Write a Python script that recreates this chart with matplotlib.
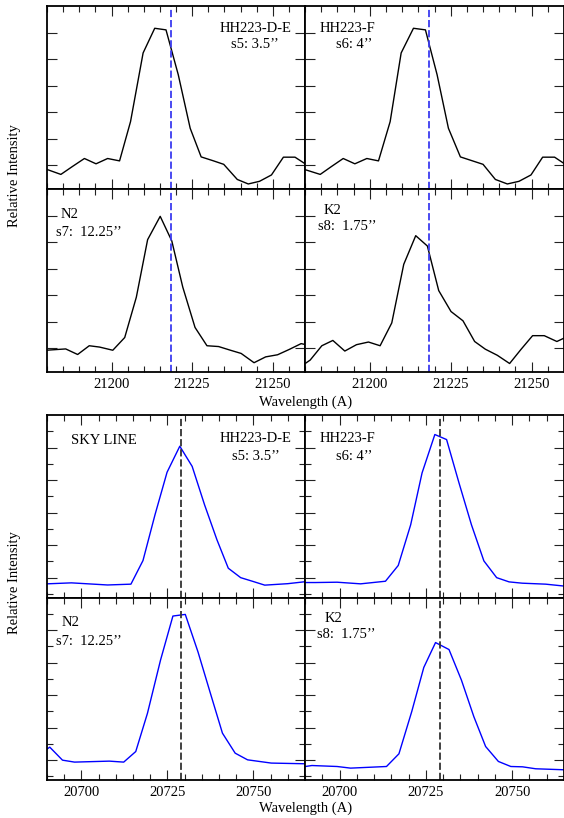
import matplotlib
matplotlib.use('Agg')
import matplotlib.pyplot as plt

plt.rcParams['font.family'] = ['Liberation Serif', 'DejaVu Serif']

# H2 1-0 S(1) panels (top block)
h2_line = 21218.3
h2_wave_s5 = [21179.7, 21184.3, 21187.9, 21191.6, 21195.2, 21198.8, 21202.5, 21205.9,
              21209.8, 21213.4, 21216.9, 21220.7, 21224.4, 21227.8, 21231.4, 21234.8,
              21239.0, 21242.4, 21245.9, 21249.6, 21253.3, 21256.9, 21260.3]
h2_int_s5 = [0.85, 0.65, 0.95, 1.25, 1.05, 1.25, 1.16, 2.64, 5.23, 6.16, 6.10, 4.41,
             2.39, 1.31, 1.17, 1.03, 0.46, 0.29, 0.39, 0.63, 1.30, 1.30, 1.03]
h2_wave_s6 = [21179.5, 21184.7, 21188.2, 21191.8, 21195.4, 21199.1, 21202.7, 21206.3,
              21209.7, 21213.5, 21217.2, 21220.8, 21224.3, 21228.0, 21231.5, 21235.0,
              21238.8, 21242.5, 21246.1, 21249.8, 21253.4, 21257.1, 21260.4]
h2_int_s6 = [0.85, 0.65, 0.95, 1.25, 1.05, 1.25, 1.16, 2.64, 5.23, 6.16, 6.10, 4.41,
             2.39, 1.31, 1.17, 1.03, 0.46, 0.29, 0.39, 0.63, 1.30, 1.30, 1.03]
h2_wave_s7 = [21179.7, 21185.8, 21189.5, 21193.1, 21196.3, 21200.4, 21204.1, 21207.7,
              21211.2, 21215.1, 21218.7, 21222.1, 21225.9, 21229.6, 21233.2, 21236.9,
              21240.2, 21244.2, 21247.8, 21251.5, 21255.1, 21258.8, 21260.3]
h2_int_s7 = [0.92, 0.97, 0.76, 1.09, 1.04, 0.92, 1.40, 2.92, 5.09, 5.97, 5.04, 3.30,
             1.78, 1.09, 1.06, 0.92, 0.80, 0.45, 0.67, 0.75, 0.95, 1.17, 1.13]
h2_wave_s8 = [21179.7, 21181.6, 21185.2, 21188.6, 21192.3, 21195.9, 21199.6, 21203.2,
              21206.8, 21210.5, 21214.2, 21217.8, 21221.3, 21225.1, 21228.8, 21232.4,
              21235.7, 21239.4, 21243.2, 21246.7, 21250.3, 21253.9, 21257.8, 21260.4]
h2_int_s8 = [0.39, 0.55, 1.09, 1.29, 0.89, 1.13, 1.23, 1.09, 1.95, 4.16, 5.24, 4.85,
             3.17, 2.38, 2.03, 1.25, 0.96, 0.73, 0.42, 0.95, 1.47, 1.47, 1.25, 1.40]

# sky line panels (bottom block)
sky_line = 20729.0
sky_wave_s5 = [20690.0, 20697.1, 20707.6, 20714.4, 20717.9, 20721.4, 20724.9, 20728.6,
               20732.2, 20735.8, 20739.4, 20742.7, 20746.3, 20750.0, 20753.3, 20760.0, 20764.6]
sky_int_s5 = [0.62, 0.68, 0.55, 0.60, 2.05, 4.87, 7.48, 9.08, 7.84, 5.48, 3.33, 1.58,
              1.00, 0.76, 0.54, 0.63, 0.74]
sky_wave_s6 = [20689.6, 20693.0, 20699.3, 20706.1, 20713.3, 20717.0, 20720.6, 20723.9,
               20727.6, 20731.0, 20734.6, 20738.2, 20741.8, 20745.5, 20749.1, 20752.9,
               20759.7, 20764.7]
sky_int_s6 = [0.70, 0.70, 0.72, 0.62, 0.78, 1.75, 4.25, 7.44, 9.80, 9.49, 6.82, 4.25,
              2.03, 1.00, 0.74, 0.66, 0.60, 0.49]
sky_wave_s7 = [20690.0, 20690.8, 20694.5, 20698.0, 20708.1, 20712.3, 20715.8, 20719.2,
               20723.0, 20726.6, 20730.2, 20733.9, 20737.5, 20741.0, 20744.7, 20748.3,
               20755.2, 20764.6]
sky_int_s7 = [1.68, 1.80, 1.00, 0.88, 0.94, 0.88, 1.53, 3.88, 7.15, 9.86, 9.96, 7.65,
              5.11, 2.66, 1.43, 1.02, 0.82, 0.78]
sky_wave_s8 = [20690.1, 20692.0, 20699.3, 20703.2, 20713.6, 20717.2, 20720.9, 20724.4,
               20727.8, 20731.7, 20735.3, 20738.9, 20742.3, 20746.0, 20749.6, 20753.0,
               20756.8, 20764.8]
sky_int_s8 = [0.61, 0.67, 0.61, 0.51, 0.61, 1.39, 3.98, 6.70, 8.23, 7.80, 5.92, 3.67,
              1.84, 0.92, 0.61, 0.59, 0.47, 0.41]

W, H = 564.0, 818.0
fig = plt.figure(figsize=(W / 100, H / 100), dpi=100)


def rect(x0, y0, x1, y1):
    return [x0 / W, 1 - y1 / H, (x1 - x0) / W, (y1 - y0) / H]


def style(ax, xlim, ylim, xmajor, ymajor, yminor, labels):
    ax.set_xlim(*xlim)
    ax.set_ylim(*ylim)
    ax.set_xticks(xmajor)
    ax.set_xticks(range(int(xlim[0]), int(xlim[1]) + 1, 5), minor=True)
    ax.set_yticks(ymajor)
    ax.set_yticks(yminor, minor=True)
    ax.tick_params(which='both', direction='in', top=True, right=True,
                   width=0.8, color='#222222', labelsize=10.5, pad=4)
    ax.tick_params(which='major', length=7)
    ax.tick_params(which='minor', length=4.5)
    ax.tick_params(axis='y', labelleft=False)
    ax.tick_params(axis='x', labelbottom=labels)
    for s in ax.spines.values():
        s.set_linewidth(1.3)


# top block: H2 line, black spectra, blue dashed marker
top_panels = [
    ((47, 6, 305, 189), h2_wave_s5, h2_int_s5, False),
    ((305, 6, 564, 189), h2_wave_s6, h2_int_s6, False),
    ((47, 189, 305, 372), h2_wave_s7, h2_int_s7, True),
    ((305, 189, 564, 372), h2_wave_s8, h2_int_s8, True),
]
for box, wv, fl, lab in top_panels:
    ax = fig.add_axes(rect(*box))
    ax.plot(wv, fl, color='black', lw=1.0)
    ax.axvline(h2_line, color='#3b3bf0', lw=1.3, dashes=(4, 1.6))
    style(ax, (21180, 21260), (0.1, 7.0), [21200, 21225, 21250], [1, 2, 3, 4, 5, 6], [], lab)

# bottom block: sky line, blue spectra, black dashed marker
bot_panels = [
    ((47, 415, 305, 597.5), sky_wave_s5, sky_int_s5, False),
    ((305, 415, 564, 597.5), sky_wave_s6, sky_int_s6, False),
    ((47, 597.5, 305, 780), sky_wave_s7, sky_int_s7, True),
    ((305, 597.5, 564, 780), sky_wave_s8, sky_int_s8, True),
]
for box, wv, fl, lab in bot_panels:
    ax = fig.add_axes(rect(*box))
    ax.plot(wv, fl, color='#0000ff', lw=1.0)
    ax.axvline(sky_line, color='#333333', lw=1.3, dashes=(4, 1.6))
    style(ax, (20690, 20765), (-0.22, 11.0), [20700, 20725, 20750],
          [1, 3, 5, 7, 9], [0, 2, 4, 6, 8, 10], lab)


def label(x, y, s, **kw):
    fig.text(x / W, 1 - y / H, s, ha='center', va='center', fontsize=10.5, **kw)


# panel annotations
label(256, 29, 'HH223-D-E')
label(255, 44.5, 's5: 3.5’’')
label(347.5, 29, 'HH223-F')
label(354, 44.5, 's6: 4’’')
label(70, 215, 'N2')
label(89, 233, 's7:  12.25’’')
label(332.5, 210, 'K2')
label(347, 226, 's8:  1.75’’')

label(104, 440, 'SKY LINE')
label(256, 438, 'HH223-D-E')
label(256, 456.5, 's5: 3.5’’')
label(347.5, 438, 'HH223-F')
label(354, 456.5, 's6: 4’’')
label(70.5, 623, 'N2')
label(89, 641.5, 's7:  12.25’’')
label(333, 618, 'K2')
label(346, 635, 's8:  1.75’’')

# axis titles
label(306, 402, 'Wavelength (A)')
label(306, 808, 'Wavelength (A)')
label(15, 175.5, 'Relative Intensity', rotation=90)
label(15, 582.5, 'Relative Intensity', rotation=90)

fig.savefig('out.png', dpi=100)
